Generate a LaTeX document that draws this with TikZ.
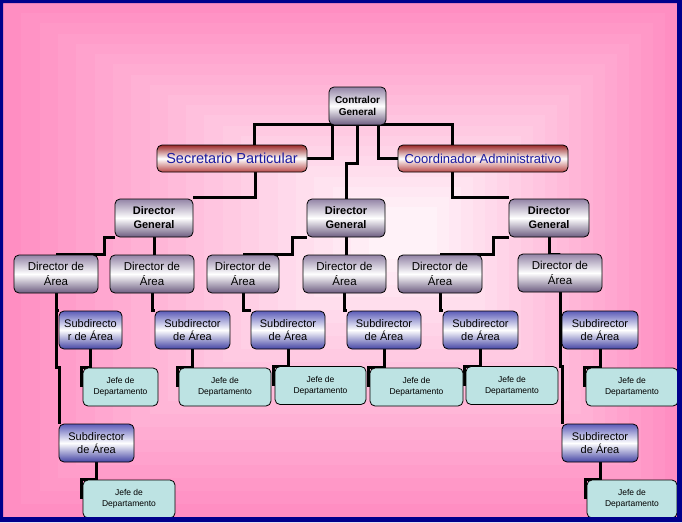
\documentclass[tikz,border=0pt]{standalone}
\usepackage{fontspec}
\setmainfont{Liberation Sans}
\definecolor{navyc}{HTML}{00008C}
\definecolor{pinkout}{HTML}{FF8EC2}
\definecolor{pinkin}{HTML}{FFF2F8}
\definecolor{pTop}{HTML}{9384A6}
\definecolor{pBot}{HTML}{6C5C80}
\definecolor{bTop}{HTML}{5C5CB8}
\definecolor{bBot}{HTML}{4444A4}
\definecolor{rTop}{HTML}{9C2A2A}
\definecolor{rBot}{HTML}{B84848}
\definecolor{jefec}{HTML}{BDE3E3}
\definecolor{txtblue}{HTML}{1C1CA0}
\pgfdeclarelayer{bg}
\pgfdeclarelayer{lines}
\pgfsetlayers{bg,lines,main}
\begin{document}
\begin{tikzpicture}[x=1pt,y=-1pt,
  box/.style={rounded corners=5pt, draw=black, line width=0.8pt, inner sep=0pt, align=center, text=black},
  purp/.style={box, top color=pTop, bottom color=pBot, middle color=white},
  ctrlbox/.style={purp, font={\fontsize{10}{12}\selectfont\bfseries}},
  dgbox/.style={purp, font={\fontsize{11}{14}\selectfont\bfseries}, minimum height=38pt},
  dabox/.style={purp, font={\fontsize{11.5}{15}\selectfont}, minimum height=38pt},
  subbox/.style={box, top color=bTop, bottom color=bBot, middle color=white, font={\fontsize{11}{13}\selectfont}, minimum height=38pt},
  redbox/.style={box, top color=rTop, bottom color=rBot, middle color=white, text=txtblue, minimum height=27pt},
  jefebox/.style={box, fill=jefec, font={\fontsize{8.5}{11}\selectfont}, minimum height=38pt},
  conn/.style={line width=3pt, black},
]
\useasboundingbox (0,0) rectangle (682,522);
\begin{pgfonlayer}{bg}
\fill[navyc] (0,0) rectangle (682,522);
\foreach \i in {0,...,20}{
  \pgfmathsetmacro\s{0.9*\i/20}
  \pgfmathtruncatemacro\p{100*\i/20}
  \fill[pinkin!\p!pinkout] ({3+\s*(410-3)},{3+\s*(230-3)}) rectangle ({677-\s*(677-410)},{517-\s*(517-230)});
}
\end{pgfonlayer}

% level 0
\node[ctrlbox, minimum width=57pt, minimum height=38pt] (ctrl) at (357.5,106) {Contralor\\General};
% staff
\node[redbox, minimum width=150pt, font={\fontsize{14.5}{16}\selectfont}] (sec) at (232,158.5) {Secretario Particular};
\node[redbox, minimum width=170pt, font={\fontsize{13}{15}\selectfont}] (coord) at (483,158.5) {Coordinador Administrativo};
% directors general
\node[dgbox, minimum width=78pt] (dg1) at (154,218) {Director\\General};
\node[dgbox, minimum width=78pt] (dg2) at (346,218) {Director\\General};
\node[dgbox, minimum width=80pt] (dg3) at (549,218) {Director\\General};
% directors of area
\node[dabox, minimum width=84pt] (da1) at (56,274) {Director de\\Área};
\node[dabox, minimum width=84pt] (da2) at (152,274) {Director de\\Área};
\node[dabox, minimum width=72pt] (da3) at (243,274) {Director de\\Área};
\node[dabox, minimum width=83pt] (da4) at (344.5,274) {Director de\\Área};
\node[dabox, minimum width=84pt] (da5) at (440,274) {Director de\\Área};
\node[dabox, minimum width=84pt] (da6) at (560,273) {Director de\\Área};
% subdirectors
\node[subbox, minimum width=63pt] (sub1) at (90.5,330) {Subdirecto\\r de Área};
\node[subbox, minimum width=75pt] (sub2) at (192.5,330) {Subdirector\\de Área};
\node[subbox, minimum width=74pt] (sub3) at (288,330) {Subdirector\\de Área};
\node[subbox, minimum width=74pt] (sub4) at (384,330) {Subdirector\\de Área};
\node[subbox, minimum width=75pt] (sub5) at (480.5,330) {Subdirector\\de Área};
\node[subbox, minimum width=76pt] (sub6) at (600,330) {Subdirector\\de Área};
\node[subbox, minimum width=75pt] (sub7) at (96.5,443) {Subdirector\\de Área};
\node[subbox, minimum width=76pt] (sub8) at (600,443) {Subdirector\\de Área};
% heads of department
\node[jefebox, minimum width=75pt] (jefe1) at (120.5,387) {Jefe de\\Departamento};
\node[jefebox, minimum width=92pt] (jefe2) at (225,387) {Jefe de\\Departamento};
\node[jefebox, minimum width=91pt] (jefe3) at (320.5,385.5) {Jefe de\\Departamento};
\node[jefebox, minimum width=93pt] (jefe4) at (416.5,387) {Jefe de\\Departamento};
\node[jefebox, minimum width=92pt] (jefe5) at (512,385.5) {Jefe de\\Departamento};
\node[jefebox, minimum width=92pt] (jefe6) at (632,387) {Jefe de\\Departamento};
\node[jefebox, minimum width=92pt] (jefe7) at (129,499) {Jefe de\\Departamento};
\node[jefebox, minimum width=90pt] (jefe8) at (632,499) {Jefe de\\Departamento};

\begin{pgfonlayer}{lines}
\begin{scope}[conn]
\draw ([yshift=1pt]ctrl.south) -| ([xshift=98pt]sec.north west);
\draw ([xshift=4pt]ctrl.south west) |- (sec.east);
\draw (ctrl.south) -- ++(0,38) -| (dg2.north);
\draw ([xshift=-8pt]ctrl.south east) |- (coord.west);
\draw ([yshift=1pt]ctrl.south) -| ([xshift=55pt]coord.north west);
\draw ([xshift=99pt]sec.south west) |- ([yshift=1pt]dg1.north east);
\draw ([xshift=55pt]coord.south west) |- ([yshift=1pt]dg3.north west);
\draw (dg1.south west) -- ++(-10,0) |- (da1.north);
\draw (dg1.south) -- (dg1.south |- da2.north);
\draw (dg2.south west) -- ++(-14,0) |- (da3.north);
\draw (dg2.south) -- (dg2.south |- da4.north);
\draw (dg3.south west) -- ++(-15,0) |- (da5.north);
\draw (dg3.south) -- ++(0,17) -| (da6.north);
\draw (da1.south) |- (sub1.north west);
\draw (da1.south) -- ++(0,74) -| ([xshift=1pt]sub7.north west);
\draw (da2.south) |- (sub2.north west);
\draw (da3.south) |- (sub3.north west);
\draw (da4.south) |- (sub4.north west);
\draw (da5.south) |- (sub5.north west);
\draw (da6.south) |- (sub6.north west);
\draw (da6.south) -- ++(0,74) -| ([xshift=1pt]sub8.north west);
\foreach \a/\b in {sub1/jefe1,sub2/jefe2,sub3/jefe3,sub4/jefe4,sub5/jefe5,sub6/jefe6,sub7/jefe7,sub8/jefe8}
  \draw (\a.south) |- ([xshift=-1pt]\b.north west) -- ([xshift=-1pt]\b.west);
\end{scope}
\end{pgfonlayer}

\fill[navyc, even odd rule] (0,0) rectangle (682,522) (3,3) rectangle (677,517);
\end{tikzpicture}
\end{document}
